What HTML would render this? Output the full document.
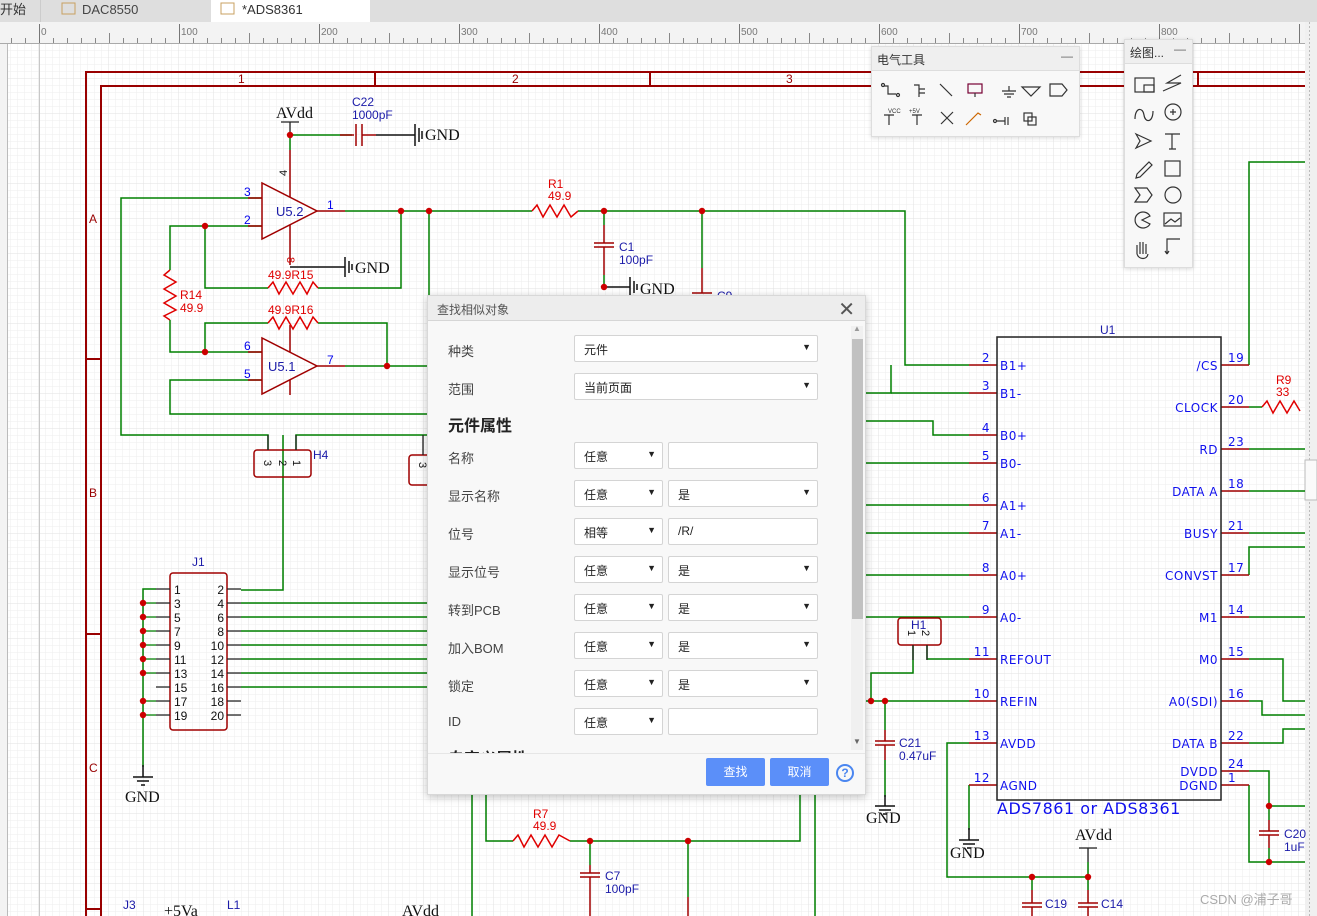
<!DOCTYPE html>
<html><head><meta charset="utf-8"><style>
*{margin:0;padding:0;box-sizing:border-box}
body{width:1317px;height:916px;overflow:hidden;background:#fff;font-family:"Liberation Sans","Noto Sans CJK SC",sans-serif;position:relative}
svg{position:absolute;left:0;top:0}
.dlg{position:absolute;left:427px;top:295px;width:439px;height:500px;background:#f8f8f8;border:1px solid #d8d8d8;box-shadow:0 2px 8px rgba(0,0,0,.25);overflow:hidden}
.hd{height:25px;background:#ededed;border-bottom:1px solid #d6d6d6;font-size:12px;color:#555;padding:5px 0 0 9px;position:relative}
.hd .x{position:absolute;right:10px;top:1px;font-size:20px;color:#555}
.lbl{position:absolute;left:20px;font-size:13px;color:#444}
.sel{position:absolute;height:27px;background:#fff;border:1px solid #d4d4d4;border-radius:2px;font-size:12px;color:#222;padding:5px 0 0 9px}
.sel b{position:absolute;right:6px;top:6px;font-size:9px;font-weight:normal}
.btn{position:absolute;top:462px;width:59px;height:28px;background:#5b8ff9;border-radius:2px;color:#fff;font-size:12px;text-align:center;line-height:28px}
.pn{position:absolute;background:#f8f8f8;border:1px solid #ddd;box-shadow:0 1px 4px rgba(0,0,0,.15)}
.pn .t{height:24px;background:#efefef;border-bottom:1px solid #ddd;font-size:12px;color:#333;padding:4px 0 0 5px;position:relative}
.pn .t i{position:absolute;right:6px;top:2px;font-style:normal;color:#666}
</style></head><body>
<svg width="1317" height="916" viewBox="0 0 1317 916" font-family="Liberation Sans, sans-serif">
<defs>
<pattern id="g" x="39" y="44" width="7" height="7" patternUnits="userSpaceOnUse"><path d="M7 0V7H0" fill="none" stroke="#eeeeee" stroke-width="1"/></pattern>
<pattern id="g2" x="39" y="44" width="35" height="35" patternUnits="userSpaceOnUse"><path d="M35 0V35H0" fill="none" stroke="#e2e2e2" stroke-width="1"/></pattern>
<pattern id="rt" x="39" y="0" width="14" height="44" patternUnits="userSpaceOnUse"><line x1="0.5" y1="38" x2="0.5" y2="44" stroke="#888"/></pattern>
<pattern id="rt2" x="39" y="0" width="70" height="44" patternUnits="userSpaceOnUse"><line x1="0.5" y1="33" x2="0.5" y2="44" stroke="#888"/></pattern>
<pattern id="rt3" x="39" y="0" width="140" height="44" patternUnits="userSpaceOnUse"><line x1="0.5" y1="24" x2="0.5" y2="44" stroke="#777"/></pattern>
</defs>
<rect x="0" y="0" width="1317" height="22" fill="#dedede"/>
<rect x="40" y="0" width="1" height="22" fill="#ccc"/>
<rect x="211" y="0" width="159" height="22" fill="#fff"/>
<text x="0" y="14" font-size="13" fill="#333" font-family="Noto Sans CJK SC, sans-serif">开始</text>
<rect x="62" y="3" width="13" height="11" fill="none" stroke="#c8a060"/>
<text x="82" y="14" font-size="13" fill="#444">DAC8550</text>
<rect x="221" y="3" width="13" height="11" fill="none" stroke="#c8a060"/>
<text x="242" y="14" font-size="13" fill="#333">*ADS8361</text>
<rect x="0" y="22" width="1317" height="22" fill="#f3f3f3"/>
<rect x="0" y="22" width="1305" height="22" fill="url(#rt)"/>
<rect x="0" y="22" width="1305" height="22" fill="url(#rt2)"/>
<rect x="0" y="22" width="1305" height="22" fill="url(#rt3)"/>
<line x1="0" y1="43.5" x2="1305" y2="43.5" stroke="#aaa"/>
<g font-size="10" fill="#777"><text x="41" y="35">0</text><text x="181" y="35">100</text><text x="321" y="35">200</text><text x="461" y="35">300</text><text x="601" y="35">400</text><text x="741" y="35">500</text><text x="881" y="35">600</text><text x="1021" y="35">700</text><text x="1161" y="35">800</text></g>
<rect x="8" y="44" width="1297" height="872" fill="#fff"/>
<rect x="8" y="44" width="1297" height="872" fill="url(#g)"/>
<rect x="8" y="44" width="1297" height="872" fill="url(#g2)"/>
<rect x="0" y="44" width="8" height="872" fill="#f3f3f3"/>
<line x1="7.5" y1="44" x2="7.5" y2="916" stroke="#bbb"/>
<line x1="39.5" y1="44" x2="39.5" y2="916" stroke="#c8c8c8"/>
<rect x="1305" y="22" width="12" height="894" fill="#f0f0f0"/>
<line x1="1309.5" y1="22" x2="1309.5" y2="916" stroke="#bbb" stroke-dasharray="2,2"/>
<rect x="1305" y="460" width="12" height="40" fill="#fafafa" stroke="#bbb"/>
<g stroke="#990000" stroke-width="2" fill="none">
<path d="M86 916V72H1305"/><path d="M101 916V86H1305"/>
<line x1="375" y1="72" x2="375" y2="86"/><line x1="650" y1="72" x2="650" y2="86"/><line x1="925" y1="72" x2="925" y2="86"/><line x1="1198" y1="72" x2="1198" y2="86"/>
<line x1="86" y1="359" x2="101" y2="359"/><line x1="86" y1="634" x2="101" y2="634"/><line x1="86" y1="909" x2="101" y2="909"/>
</g>
<g font-size="12" fill="#990000"><text x="238" y="83">1</text><text x="512" y="83">2</text><text x="786" y="83">3</text><text x="89" y="223">A</text><text x="89" y="497">B</text><text x="89" y="772">C</text></g>
<g stroke="#008000" stroke-width="1.5" fill="none">
<path d="M290 135H352M290 135V150"/>
<path d="M345 211H532M578 211H905V365H969"/>
<path d="M604 211V225M604 275V287"/>
<path d="M702 211V268"/>
<path d="M401 211V288H318M268 288H205V226H262M205 226H170V270M170 320V352H262"/>
<path d="M429 211V295"/>
<path d="M205 352V323H268M318 323H387V366M345 366H427"/>
<path d="M262 198H121V435H268V450M296 450V435H427"/>
<path d="M283 435V590H241"/>
<path d="M262 380H170V414H427"/>
<path d="M156 589H143V767"/>
<path d="M241 603H427M241 617H427M241 631H427M241 645H427M241 659H427M241 673H427M241 687H427"/>
<path d="M866 393H891V365"/><path d="M891 393H969"/>
<path d="M866 421H933V435H969"/>
<path d="M866 463H969M866 505H969M866 533H969M866 575H969M866 617H969"/>
<path d="M927 645V659H969M913 645V673H871V701M866 701H969"/>
<path d="M885 701V730M885 760V797"/>
<path d="M969 743H947V877H1088M1088 862V877M1032 877V890M1088 877V890"/>
<path d="M969 785V830"/>
<path d="M1249 365V162H1305"/>
<path d="M1249 407H1262"/>
<path d="M1249 449H1305M1249 491H1305M1249 533H1305M1249 617H1305"/>
<path d="M1249 575V547H1305"/>
<path d="M1249 659H1283V701H1305"/>
<path d="M1249 701H1262V715H1305"/>
<path d="M1249 743H1283V729H1305"/>
<path d="M1249 771H1269V820M1269 806H1305M1269 848V862H1305M1249 785V862H1269"/>
<path d="M486 795V841H513M570 841H800V795M472 795V916M815 795V916"/>
<path d="M590 841V865M688 841V897"/>
</g>
<g stroke="#a00000" stroke-width="1.5" fill="none">
<path d="M262 183V239L317 211Z"/><path d="M262 338V394L317 366Z"/>
<path d="M248 198H262M248 226H262M317 211H345M290 150V197M290 225V265"/>
<path d="M248 352H262M248 380H262M317 366H345M290 325V352M290 380V395"/>
<path d="M340 135H354M356 124V146M362 124V146M362 135H376"/>
<path d="M604 225V243M594 243H614M594 247H614M604 247V275"/>
<path d="M702 268V293M692 293H712"/>
<path d="M885 730V741M875 741H895M875 745H895M885 745V760"/>
<path d="M1032 890V903M1022 903H1042M1022 907H1042M1032 907V916"/>
<path d="M1088 890V903M1078 903H1098M1078 907H1098M1088 907V916"/>
<path d="M1269 820V831M1259 831H1279M1259 835H1279M1269 835V848"/>
<path d="M590 865V873M580 873H600M580 877H600M590 877V916"/>
<path d="M688 897V916"/>
<rect x="254" y="450" width="57" height="27" rx="3"/>
<rect x="409" y="455" width="30" height="30" rx="3"/>
<rect x="898" y="618" width="43" height="27" rx="3"/>
<rect x="170" y="573" width="57" height="157" rx="3"/>
</g>
<g stroke="#a00000" stroke-width="1.5">
<path d="M969 365H997M969 393H997M969 435H997M969 463H997M969 505H997M969 533H997M969 575H997M969 617H997M969 659H997M969 701H997M969 743H997M969 785H997"/>
<path d="M1221 365H1249M1221 407H1249M1221 449H1249M1221 491H1249M1221 533H1249M1221 575H1249M1221 617H1249M1221 659H1249M1221 701H1249M1221 743H1249M1221 771H1249M1221 785H1249"/>
</g>
<g stroke="#e00000" stroke-width="1.5" fill="none">
<polyline points="532,211 537,205 543,217 550,205 557,217 564,205 571,217 578,211"/>
<polyline points="268,288 273,282 279,294 286,282 293,294 300,282 307,294 313,282 318,288"/>
<polyline points="268,323 273,317 279,329 286,317 293,329 300,317 307,329 313,317 318,323"/>
<polyline points="170,270 164,275 176,282 164,289 176,296 164,303 176,310 164,316 170,320"/>
<polyline points="513,841 518,835 524,847 531,835 538,847 545,835 552,847 559,835 570,841"/>
<polyline points="1262,407 1267,401 1273,413 1280,401 1287,413 1294,401 1300,411"/>
</g>
<rect x="997" y="337" width="224" height="463" fill="none" stroke="#222" stroke-width="1.5"/>
<g stroke="#222" stroke-width="1.3">
<path d="M156 589H170M156 603H170M156 617H170M156 631H170M156 645H170M156 659H170M156 673H170M156 687H170M156 701H170M156 715H170"/>
<path d="M227 589H241M227 603H241M227 617H241M227 631H241M227 645H241M227 659H241M227 673H241M227 687H241M227 701H241M227 715H241"/>
<path d="M156 603H143M156 617H143M156 631H143M156 645H143M156 659H143M156 673H143M156 701H143M156 715H143" stroke="#008000"/>
<path d="M268 435V450M296 435V450M423 435V455"/>
<path d="M913 645V660M927 645V660"/>
<path d="M290 122V135M281 122H299M1088 848V862M1079 848H1097"/>
</g>
<g stroke="#111" stroke-width="1.5">
<path d="M290 267H345M345 257V277M349 261V273M352 264V270"/>
<path d="M376 135H415M415 124V146M419 128V142M422 131V139"/>
<path d="M604 287H630M630 277V297M634 281V293M637 284V290"/>
<path d="M143 765V777M133 777H153M137 781H149M141 785H145"/>
<path d="M885 795V806M875 806H895M879 810H891M883 814H887"/>
<path d="M969 828V840M959 840H979M963 844H975M967 848H971"/>
</g>
<g fill="#cc0000">
<circle cx="290" cy="135" r="3.2"/><circle cx="401" cy="211" r="3.2"/><circle cx="429" cy="211" r="3.2"/><circle cx="604" cy="211" r="3.2"/><circle cx="702" cy="211" r="3.2"/><circle cx="604" cy="287" r="3.2"/>
<circle cx="205" cy="226" r="3.2"/><circle cx="205" cy="352" r="3.2"/><circle cx="387" cy="366" r="3.2"/>
<circle cx="143" cy="603" r="3.2"/><circle cx="143" cy="617" r="3.2"/><circle cx="143" cy="631" r="3.2"/><circle cx="143" cy="645" r="3.2"/><circle cx="143" cy="659" r="3.2"/><circle cx="143" cy="673" r="3.2"/><circle cx="143" cy="701" r="3.2"/><circle cx="143" cy="715" r="3.2"/>
<circle cx="871" cy="701" r="3.2"/><circle cx="885" cy="701" r="3.2"/><circle cx="1032" cy="877" r="3.2"/><circle cx="1088" cy="877" r="3.2"/><circle cx="1269" cy="806" r="3.2"/><circle cx="1269" cy="862" r="3.2"/>
<circle cx="590" cy="841" r="3.2"/><circle cx="688" cy="841" r="3.2"/>
</g>
<g font-family="Liberation Serif, serif" font-size="16" fill="#111">
<text x="276" y="118">AVdd</text><text x="425" y="140">GND</text><text x="355" y="273">GND</text><text x="640" y="294">GND</text>
<text x="125" y="802">GND</text><text x="866" y="823">GND</text><text x="950" y="858">GND</text><text x="1075" y="840">AVdd</text>
<text x="164" y="916">+5Va</text><text x="402" y="916">AVdd</text>
</g>
<g font-size="12" fill="#1a1aa8">
<text x="352" y="106">C22</text><text x="352" y="119">1000pF</text>
<text x="619" y="251">C1</text><text x="619" y="264">100pF</text><text x="717" y="300">C9</text>
<text x="276" y="216" font-size="13">U5.2</text><text x="268" y="371" font-size="13">U5.1</text>
<text x="313" y="459">H4</text><text x="192" y="566">J1</text><text x="911" y="629">H1</text>
<text x="899" y="747">C21</text><text x="899" y="760">0.47uF</text>
<text x="605" y="880">C7</text><text x="605" y="893">100pF</text>
<text x="1045" y="908">C19</text><text x="1101" y="908">C14</text><text x="1284" y="838">C20</text><text x="1284" y="851">1uF</text>
<text x="123" y="909">J3</text><text x="227" y="909">L1</text>
<text x="1100" y="334">U1</text>
</g>
<g font-size="12" fill="#0000ee">
<text x="244" y="196">3</text><text x="244" y="224">2</text><text x="327" y="209">1</text><text x="244" y="350">6</text><text x="244" y="378">5</text><text x="327" y="364">7</text>
</g>
<text x="0" y="0" font-size="11" fill="#111" transform="translate(287,176) rotate(-90)">4</text>
<text x="0" y="0" font-size="11" fill="#c00" transform="translate(287,257) rotate(90)">8</text>
<g font-size="11" fill="#111">
<text transform="translate(264,460) rotate(90)">3</text><text transform="translate(279,460) rotate(90)">2</text><text transform="translate(293,460) rotate(90)">1</text>
<text transform="translate(419,462) rotate(90)">3</text>
<text transform="translate(908,630) rotate(90)">1</text><text transform="translate(922,630) rotate(90)">2</text>
</g>
<g font-size="12" fill="#e00000">
<text x="548" y="188">R1</text><text x="548" y="200">49.9</text>
<text x="268" y="279">49.9R15</text><text x="268" y="314">49.9R16</text>
<text x="180" y="299">R14</text><text x="180" y="312">49.9</text>
<text x="533" y="818">R7</text><text x="533" y="830">49.9</text>
<text x="1276" y="384">R9</text><text x="1276" y="396">33</text>
</g>
<g font-size="12" fill="#111">
<text x="174" y="594">1</text><text x="174" y="608">3</text><text x="174" y="622">5</text><text x="174" y="636">7</text><text x="174" y="650">9</text><text x="174" y="664">11</text><text x="174" y="678">13</text><text x="174" y="692">15</text><text x="174" y="706">17</text><text x="174" y="720">19</text>
<g text-anchor="end"><text x="224" y="594">2</text><text x="224" y="608">4</text><text x="224" y="622">6</text><text x="224" y="636">8</text><text x="224" y="650">10</text><text x="224" y="664">12</text><text x="224" y="678">14</text><text x="224" y="692">16</text><text x="224" y="706">18</text><text x="224" y="720">20</text></g>
</g>
<g font-size="12" fill="#1010ee" font-family="DejaVu Sans, sans-serif" letter-spacing="0.5">
<g text-anchor="end"><text x="990" y="362">2</text><text x="990" y="390">3</text><text x="990" y="432">4</text><text x="990" y="460">5</text><text x="990" y="502">6</text><text x="990" y="530">7</text><text x="990" y="572">8</text><text x="990" y="614">9</text><text x="990" y="656">11</text><text x="990" y="698">10</text><text x="990" y="740">13</text><text x="990" y="782">12</text></g>
<text x="1000" y="370">B1+</text><text x="1000" y="398">B1-</text><text x="1000" y="440">B0+</text><text x="1000" y="468">B0-</text><text x="1000" y="510">A1+</text><text x="1000" y="538">A1-</text><text x="1000" y="580">A0+</text><text x="1000" y="622">A0-</text><text x="1000" y="664">REFOUT</text><text x="1000" y="706">REFIN</text><text x="1000" y="748">AVDD</text><text x="1000" y="790">AGND</text>
<g text-anchor="end"><text x="1218" y="370">/CS</text><text x="1218" y="412">CLOCK</text><text x="1218" y="454">RD</text><text x="1218" y="496">DATA A</text><text x="1218" y="538">BUSY</text><text x="1218" y="580">CONVST</text><text x="1218" y="622">M1</text><text x="1218" y="664">M0</text><text x="1218" y="706">A0(SDI)</text><text x="1218" y="748">DATA B</text><text x="1218" y="776">DVDD</text><text x="1218" y="790">DGND</text></g>
<text x="1228" y="362">19</text><text x="1228" y="404">20</text><text x="1228" y="446">23</text><text x="1228" y="488">18</text><text x="1228" y="530">21</text><text x="1228" y="572">17</text><text x="1228" y="614">14</text><text x="1228" y="656">15</text><text x="1228" y="698">16</text><text x="1228" y="740">22</text><text x="1228" y="768">24</text><text x="1228" y="782">1</text>
<text x="997" y="814" font-size="16">ADS7861 or ADS8361</text>
</g>
<text x="1200" y="904" font-size="13" fill="#aaa" font-family="Liberation Sans, Noto Sans CJK SC, sans-serif">CSDN @浦子哥</text>
</svg>

<div class="pn" style="left:871px;top:46px;width:209px;height:91px">
<div class="t">电气工具<i>—</i></div>
<svg width="209" height="66" style="top:24px" stroke="#333" fill="none" stroke-width="1.2">
<path d="M12 15h4v8h8"/><circle cx="11" cy="14" r="1.5"/><circle cx="26" cy="24" r="1.5"/>
<path d="M42 14h5v12M47 18h6M47 22h6"/>
<path d="M68 13l12 12"/>
<rect x="96" y="13" width="14" height="9" stroke="#703"/><path d="M103 22v4"/>
<path d="M130 20h14M132 23h10M135 26h4M137 15v5"/>
<path d="M150 16h18l-9 9z"/>
<path d="M178 13h12l5 6-5 6h-12z"/>
<path d="M12 44h10M17 44v10M40 44h10M45 44v10"/>
<path d="M69 41l12 12M81 41l-12 12"/><path d="M94 54l12-12 3 2" stroke="#c60"/>
<circle cx="123" cy="50" r="1.5"/><path d="M125 50h8M133 46v8M136 46v8"/>
<rect x="152" y="42" width="8" height="8"/><rect x="156" y="46" width="8" height="8"/>
</svg>
<div style="position:absolute;left:16px;top:62px;font-size:6px;color:#333">VCC&nbsp;&nbsp;&nbsp;&nbsp;&nbsp;+5V</div>
</div>
<div class="pn" style="left:1124px;top:39px;width:69px;height:229px">
<div class="t">绘图...<i>—</i></div>
<svg width="69" height="205" style="top:24px" stroke="#333" fill="none" stroke-width="1.2">
<rect x="10" y="14" width="19" height="14"/><rect x="19" y="21" width="10" height="7"/>
<path d="M38 27l18-8-14 0 14-8"/>
<path d="M10 55c0-12 8-12 9-4s9 8 9-4"/>
<circle cx="48" cy="48" r="8"/><path d="M48 45v6M45 48h6"/>
<path d="M11 70l15 7-15 7 4-7z"/>
<path d="M40 70h15M47 70v15M44 85h7"/>
<path d="M12 110l12-12 3 3-12 12-4 1z"/>
<rect x="40" y="97" width="15" height="15"/>
<path d="M10 124h12l5 7-5 7h-12l5-7z"/>
<circle cx="48" cy="131" r="8"/>
<path d="M25 152a8 8 0 1 0 0 8l-8-4z"/>
<rect x="39" y="149" width="17" height="13"/><path d="M40 160l6-5 4 3 5-4"/>
<path d="M12 190v-9M15 190v-12M18 190v-12M21 190v-10M12 190c2 6 10 6 11 0"/>
<path d="M42 190v-15h13M42 190l-2-3M42 190l2-3"/>
</svg>
</div>

<div class="dlg">
<div class="hd">查找相似对象<span class="x">✕</span></div>
<div class="lbl" style="top:45px">种类</div><div class="sel" style="left:146px;top:39px;width:244px">元件<b>▼</b></div>
<div class="lbl" style="top:83px">范围</div><div class="sel" style="left:146px;top:77px;width:244px">当前页面<b>▼</b></div>
<div class="lbl" style="top:116px;font-size:16px;font-weight:bold;color:#222">元件属性</div>
<div class="lbl" style="top:152px">名称</div><div class="sel" style="left:146px;top:146px;width:89px">任意<b>▼</b></div><div class="sel" style="left:240px;top:146px;width:150px"></div>
<div class="lbl" style="top:190px">显示名称</div><div class="sel" style="left:146px;top:184px;width:89px">任意<b>▼</b></div><div class="sel" style="left:240px;top:184px;width:150px">是<b>▼</b></div>
<div class="lbl" style="top:228px">位号</div><div class="sel" style="left:146px;top:222px;width:89px">相等<b>▼</b></div><div class="sel" style="left:240px;top:222px;width:150px">/R/</div>
<div class="lbl" style="top:266px">显示位号</div><div class="sel" style="left:146px;top:260px;width:89px">任意<b>▼</b></div><div class="sel" style="left:240px;top:260px;width:150px">是<b>▼</b></div>
<div class="lbl" style="top:304px">转到PCB</div><div class="sel" style="left:146px;top:298px;width:89px">任意<b>▼</b></div><div class="sel" style="left:240px;top:298px;width:150px">是<b>▼</b></div>
<div class="lbl" style="top:342px">加入BOM</div><div class="sel" style="left:146px;top:336px;width:89px">任意<b>▼</b></div><div class="sel" style="left:240px;top:336px;width:150px">是<b>▼</b></div>
<div class="lbl" style="top:380px">锁定</div><div class="sel" style="left:146px;top:374px;width:89px">任意<b>▼</b></div><div class="sel" style="left:240px;top:374px;width:150px">是<b>▼</b></div>
<div class="lbl" style="top:418px">ID</div><div class="sel" style="left:146px;top:412px;width:89px">任意<b>▼</b></div><div class="sel" style="left:240px;top:412px;width:150px"></div>
<div class="lbl" style="top:449px;font-size:16px;font-weight:bold;color:#222;height:8px;overflow:hidden">自定义属性</div>
<div style="position:absolute;left:423px;top:30px;width:12px;height:424px;background:#f0f0f0"></div>
<div style="position:absolute;left:424px;top:43px;width:11px;height:280px;background:#c1c1c1"></div>
<div style="position:absolute;left:425px;top:28px;font-size:8px;color:#999">▲</div>
<div style="position:absolute;left:425px;top:441px;font-size:8px;color:#666">▼</div>
<div style="position:absolute;left:0;top:457px;width:439px;height:43px;background:#f8f8f8;border-top:1px solid #e6e6e6"></div>
<div class="btn" style="left:278px">查找</div><div class="btn" style="left:342px">取消</div>
<div style="position:absolute;left:408px;top:468px;width:18px;height:18px;border:2px solid #4a86f0;border-radius:50%;color:#4a86f0;font-size:12px;font-weight:bold;text-align:center;line-height:14px">?</div>
</div>
</body></html>
